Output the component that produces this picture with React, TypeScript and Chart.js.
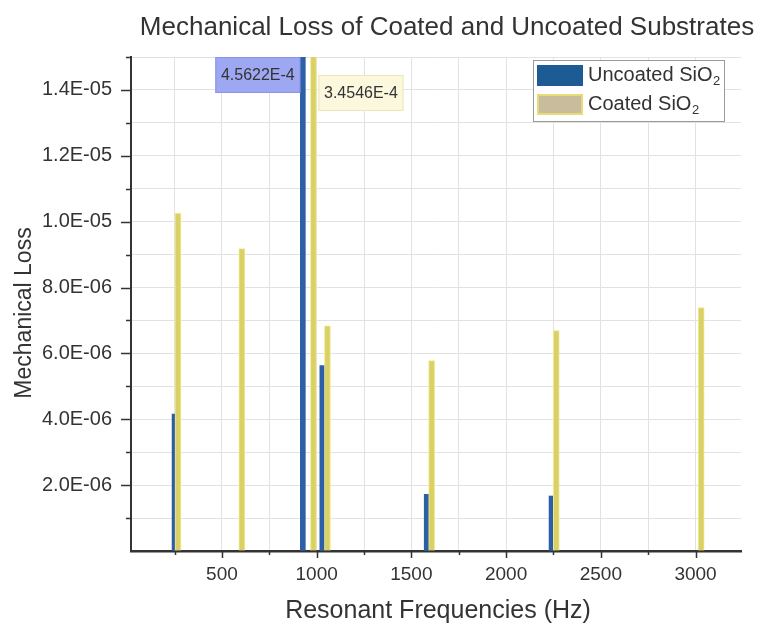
import React, { useEffect, useRef } from "react";
import { Chart, registerables } from "chart.js";

Chart.register(...registerables);

// ---------- data ----------
const chartTitle = "Mechanical Loss of Coated and Uncoated Substrates";
const xAxisTitle = "Resonant Frequencies (Hz)";
const yAxisTitle = "Mechanical Loss";

const uncoatedLabel = "Uncoated SiO₂";
const uncoatedFreqs = [250, 927, 1030, 1581, 2240];
const uncoatedLoss = [4.16e-6, 4.5622e-4, 5.63e-6, 1.72e-6, 1.67e-6];

const coatedLabel = "Coated SiO₂";
const coatedFreqs = [268, 605, 983, 1057, 1607, 2265, 3030];
const coatedLoss = [10.25e-6, 9.18e-6, 3.4546e-4, 6.84e-6, 5.78e-6, 6.69e-6, 7.39e-6];

const xMin = 20;
const xMax = 3240;
const xStep = 250;
const xLabelStep = 500;
const yMin = 0;
const yMax = 1.5e-5;
const yStep = 1e-6;
const yLabelEvery = 2;

// ---------- styles ----------
const FONT = "'Liberation Sans', Arial, Helvetica, sans-serif";
const TEXT = "#333333";
const uncoatedColor = "#2d5fa6";
const coatedColor = "#d9d168";
const coatedBorder = "#f0e98c";
const legendUncoated = "#1c5b93";
const legendCoated = "#c8bc9c";
const legendCoatedBorder = "#e6dc78";

function fmtExp(v: number): string {
  const [m, e] = v.toExponential(1).split("e");
  const n = parseInt(e, 10);
  return m + "E" + (n < 0 ? "-" : "+") + String(Math.abs(n)).padStart(2, "0");
}

function drawSubText(ctx: CanvasRenderingContext2D, text: string, x: number, y: number, size: number) {
  const parts = text.split("₂");
  let cx = x;
  parts.forEach((p, i) => {
    ctx.font = `${size}px ${FONT}`;
    ctx.fillText(p, cx, y);
    cx += ctx.measureText(p).width;
    if (i < parts.length - 1) {
      ctx.font = `${Math.round(size * 0.65)}px ${FONT}`;
      ctx.fillText("2", cx + 0.5, y + size * 0.32);
      cx += ctx.measureText("2").width + 0.5;
    }
  });
}

const titlePlugin = {
  id: "customTitles",
  afterDraw(chart: any) {
    const ctx = chart.ctx;
    ctx.save();
    ctx.fillStyle = TEXT;
    ctx.textAlign = "center";
    ctx.textBaseline = "alphabetic";
    ctx.font = `26px ${FONT}`;
    ctx.fillText(chartTitle, 447, 35);
    ctx.font = `25px ${FONT}`;
    ctx.fillText(xAxisTitle, 438, 618);
    ctx.translate(31, 313);
    ctx.rotate(-Math.PI / 2);
    ctx.font = `23px ${FONT}`;
    ctx.fillText(yAxisTitle, 0, 0);
    ctx.restore();
  },
};

const ticksPlugin = {
  id: "minorTicks",
  afterDraw(chart: any) {
    const ctx = chart.ctx;
    const { x, y } = chart.scales;
    const area = chart.chartArea;
    ctx.save();
    ctx.strokeStyle = "#333";
    ctx.lineWidth = 1.5;
    y.ticks.forEach((t: any) => {
      const n = Math.round(t.value / yStep);
      if (n === 0) return;
      const major = n % yLabelEvery === 0;
      const py = Math.round(y.getPixelForValue(t.value)) + 0.5;
      ctx.beginPath();
      ctx.moveTo(area.left - (major ? 10 : 5), py);
      ctx.lineTo(area.left, py);
      ctx.stroke();
    });
    x.ticks.forEach((t: any) => {
      const major = Math.round(t.value) % xLabelStep === 0;
      const px = Math.round(x.getPixelForValue(t.value)) + 0.5;
      ctx.beginPath();
      ctx.moveTo(px, area.bottom);
      ctx.lineTo(px, area.bottom + (major ? 7 : 4));
      ctx.stroke();
    });
    ctx.restore();
  },
};

const peakLabelPlugin = {
  id: "peakLabels",
  afterDatasetsDraw(chart: any) {
    const ctx = chart.ctx;
    const area = chart.chartArea;
    const yScale = chart.scales.y;
    ctx.save();
    chart.data.datasets.forEach((ds: any, di: number) => {
      const meta = chart.getDatasetMeta(di);
      ds.data.forEach((pt: any, i: number) => {
        if (pt.y <= yScale.max) return;
        const bar = meta.data[i];
        const half = bar.width / 2;
        const text = pt.y.toExponential(4).toUpperCase();
        ctx.font = `16px ${FONT}`;
        const w = 85;
        const h = 36;
        let bx: number, by: number, fill: string, stroke: string;
        if (di === 0) {
          bx = bar.x - half - w;
          by = area.top;
          fill = "#9ea7f2";
          stroke = "#8b94e4";
        } else {
          bx = bar.x + half + 2;
          by = area.top + 18;
          fill = "#fcf8de";
          stroke = "#ede6b6";
        }
        ctx.fillStyle = fill;
        ctx.strokeStyle = stroke;
        ctx.lineWidth = 1;
        ctx.fillRect(bx, by, w, h);
        ctx.strokeRect(bx + 0.5, by + 0.5, w - 1, h - 1);
        ctx.fillStyle = TEXT;
        ctx.textAlign = "center";
        ctx.textBaseline = "middle";
        ctx.fillText(text, bx + w / 2, by + h / 2 + 1);
      });
    });
    ctx.restore();
  },
};

const legendPlugin = {
  id: "customLegend",
  afterDraw(chart: any) {
    const ctx = chart.ctx;
    const bx = 533, by = 60, bw = 191, bh = 61;
    ctx.save();
    ctx.fillStyle = "#ffffff";
    ctx.fillRect(bx, by, bw, bh);
    ctx.strokeStyle = "#9a9a9a";
    ctx.lineWidth = 1;
    ctx.strokeRect(bx + 0.5, by + 0.5, bw, bh);
    const rows = [
      { label: chart.data.datasets[0].label, fill: legendUncoated, border: legendUncoated },
      { label: chart.data.datasets[1].label, fill: legendCoated, border: legendCoatedBorder },
    ];
    rows.forEach((r, i) => {
      const ry = by + 5 + i * 29;
      ctx.fillStyle = r.fill;
      ctx.fillRect(bx + 4, ry, 46, 21);
      ctx.strokeStyle = r.border;
      ctx.lineWidth = 2;
      ctx.strokeRect(bx + 5, ry + 1, 44, 19);
      ctx.fillStyle = TEXT;
      ctx.textAlign = "left";
      ctx.textBaseline = "middle";
      drawSubText(ctx, r.label, bx + 55, ry + 10, 20);
    });
    ctx.restore();
  },
};

export default function App() {
  const ref = useRef<HTMLCanvasElement>(null);

  useEffect(() => {
    if (!ref.current) return;
    const chart = new Chart(ref.current, {
      type: "bar",
      data: {
        datasets: [
          {
            label: uncoatedLabel,
            data: uncoatedFreqs.map((f, i) => ({ x: f, y: uncoatedLoss[i] })),
            backgroundColor: uncoatedColor,
            borderWidth: 0,
            barThickness: 5,
            grouped: false,
            order: 1,
            clip: 0,
          } as any,
          {
            label: coatedLabel,
            data: coatedFreqs.map((f, i) => ({ x: f, y: coatedLoss[i] })),
            backgroundColor: coatedColor,
            borderColor: coatedBorder,
            borderWidth: 1,
            barThickness: 6,
            grouped: false,
            order: 0,
            clip: 0,
          } as any,
        ],
      },
      options: {
        responsive: false,
        animation: false,
        devicePixelRatio: 1,
        layout: { padding: { top: 57, right: 21, left: 0, bottom: 0 } },
        plugins: {
          legend: { display: false },
          tooltip: { enabled: false },
          title: { display: false },
        },
        scales: {
          x: {
            type: "linear",
            min: xMin,
            max: xMax,
            offset: false,
            afterBuildTicks: (s: any) => {
              const t: any[] = [];
              for (let v = Math.ceil(xMin / xStep) * xStep; v <= xMax; v += xStep) t.push({ value: v });
              s.ticks = t;
            },
            afterFit: (s: any) => {
              s.height = 76;
            },
            grid: { color: "#e2e2e2", lineWidth: 1, drawTicks: false, offset: false },
            border: { display: true, color: "#333", width: 2.5 },
            ticks: {
              autoSkip: false,
              maxRotation: 0,
              minRotation: 0,
              padding: 12,
              color: TEXT,
              font: { family: FONT, size: 19 },
              callback: (v: any) => (Math.round(v) % xLabelStep === 0 ? String(Math.round(v)) : ""),
            },
            title: { display: false },
          },
          y: {
            type: "linear",
            min: yMin,
            max: yMax,
            afterBuildTicks: (s: any) => {
              const t: any[] = [];
              const n = Math.round((yMax - yMin) / yStep);
              for (let i = 0; i <= n; i++) t.push({ value: yMin + i * yStep });
              s.ticks = t;
            },
            afterFit: (s: any) => {
              s.width = 131;
            },
            grid: { color: "#e2e2e2", lineWidth: 1, drawTicks: false },
            border: { display: true, color: "#333", width: 2 },
            ticks: {
              autoSkip: false,
              padding: 19,
              color: TEXT,
              font: { family: FONT, size: 20 },
              callback: (v: any) => {
                const n = Math.round(v / yStep);
                return n > 0 && n % yLabelEvery === 0 ? fmtExp(n * yStep) : "";
              },
            },
            title: { display: false },
          },
        },
      },
      plugins: [titlePlugin, ticksPlugin, peakLabelPlugin, legendPlugin],
    } as any);
    return () => chart.destroy();
  }, []);

  return (
    <div style={{ position: "absolute", left: 0, top: 0, width: 762, height: 627, background: "#fff" }}>
      <canvas ref={ref} width={762} height={627} />
    </div>
  );
}
